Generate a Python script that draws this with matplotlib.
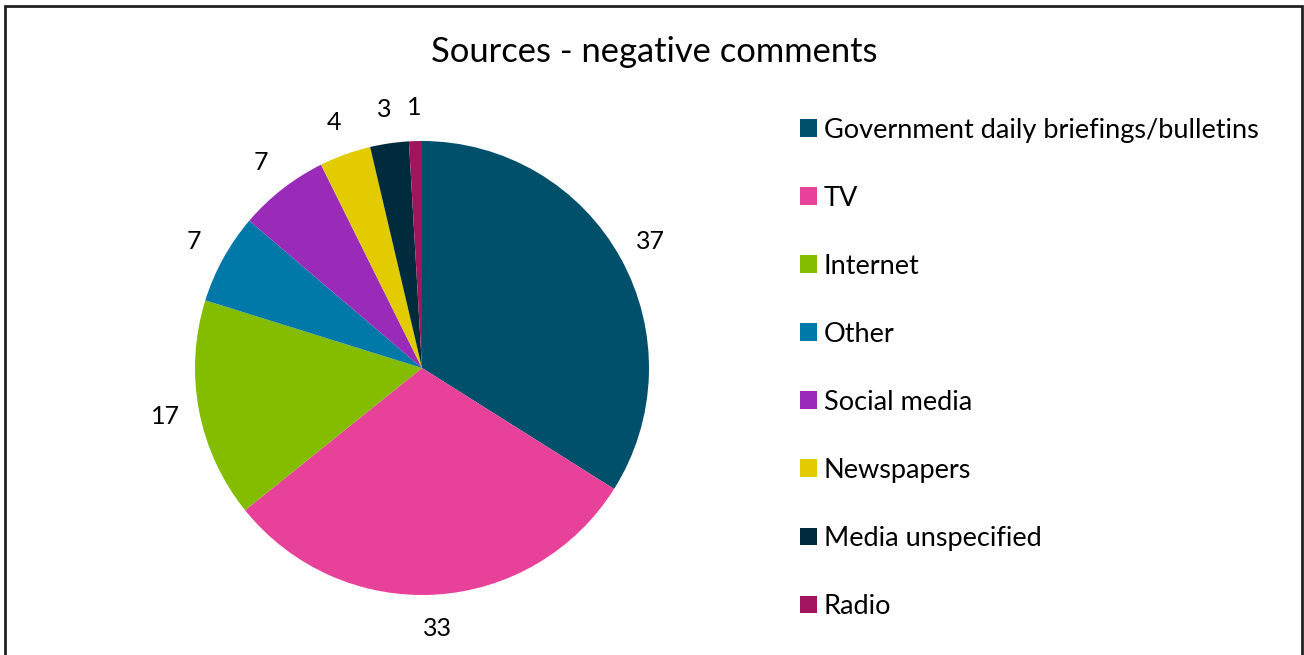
import matplotlib.pyplot as plt
from matplotlib.patches import Rectangle

plt.rcParams['font.family'] = ['Lato', 'DejaVu Sans']

# Data
sources = ['Government daily briefings/bulletins', 'TV', 'Internet', 'Other',
           'Social media', 'Newspapers', 'Media unspecified', 'Radio']
counts = [37, 33, 17, 7, 7, 4, 3, 1]
colors = ['#004F6B', '#E8419A', '#84BD00', '#0079A8',
          '#9A2AB8', '#E2CC00', '#002B3D', '#A0155E']

W, H = 1304, 655
fig = plt.figure(figsize=(W / 100, H / 100), dpi=100)

# pie axes placed by pixel centre / radius
cx, cy, r = 422, 368, 227
ax = fig.add_axes([(cx - r) / W, (H - cy - r) / H, 2 * r / W, 2 * r / H])
total = sum(counts)
wedges, _, autotexts = ax.pie(counts, colors=colors, startangle=90, counterclock=False,
                              autopct=lambda p: f'{round(p * total / 100):d}',
                              pctdistance=1.15, textprops={'fontsize': 18, 'color': 'black'})
ax.set_xlim(-1, 1)
ax.set_ylim(-1, 1)
ax.set_aspect('equal')

fig.text(654 / W, 1 - 52 / H, 'Sources - negative comments', ha='center', va='center', fontsize=24.8)

fig.legend(wedges, sources, loc='upper left', bbox_to_anchor=(786 / W, 1 - 104 / H),
           frameon=False, fontsize=19.5, handlelength=0.63, handleheight=0.63,
           handletextpad=0.26, labelspacing=1.59, borderpad=0)

# outer frame
fig.patches.append(Rectangle((5 / W, -0.05), (W - 7) / W, 1 - 6 / H + 0.05,
                             transform=fig.transFigure, fill=False,
                             edgecolor='#222222', linewidth=2))

fig.savefig('out.png', dpi=100)
